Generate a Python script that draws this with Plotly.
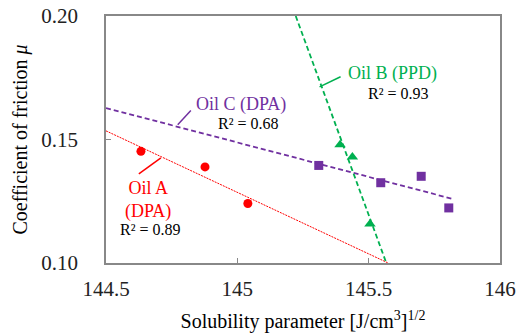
import numpy as np
import plotly.graph_objects as go

# Data
oil_a_x = [144.633, 144.877, 145.040]
oil_a_y = [0.1452, 0.1389, 0.1241]
oil_b_x = [145.391, 145.438, 145.505]
oil_b_y = [0.1479, 0.1429, 0.1158]
oil_c_x = [145.310, 145.546, 145.700, 145.805]
oil_c_y = [0.1395, 0.1325, 0.1351, 0.1223]
x_ticks = [144.5, 145, 145.5, 146]
x_tick_labels = ["144.5", "145", "145.5", "146"]
y_ticks = [0.10, 0.15, 0.20]
y_tick_labels = ["0.10", "0.15", "0.20"]

RED = "#FF0000"
GREEN = "#00B050"
PURPLE = "#7030A0"
FONT = "Liberation Serif"


def fit(xs, ys):
    m, b = np.polyfit(xs, ys, 1)
    return m, b


fig = go.Figure()

# trend lines
ma, ba = fit(oil_a_x, oil_a_y)
xa = [144.5, (0.10 - ba) / ma]
fig.add_trace(go.Scatter(x=xa, y=[ma * v + ba for v in xa], mode="lines",
                         line=dict(color=RED, width=1, dash="2px,1px"), showlegend=False))
mc, bc = fit(oil_c_x, oil_c_y)
xc = [144.5, max(oil_c_x) + 0.01]
fig.add_trace(go.Scatter(x=xc, y=[mc * v + bc for v in xc], mode="lines",
                         line=dict(color=PURPLE, width=1.8, dash="5px,3px"), showlegend=False))
mb, bb = fit(oil_b_x, oil_b_y)
xb = [(0.20 - bb) / mb, (0.10 - bb) / mb]
fig.add_trace(go.Scatter(x=xb, y=[mb * v + bb for v in xb], mode="lines",
                         line=dict(color=GREEN, width=1.8, dash="5px,3px"), showlegend=False))

# markers
fig.add_trace(go.Scatter(x=oil_a_x, y=oil_a_y, mode="markers",
                         marker=dict(color=RED, size=9, symbol="circle"), showlegend=False))
fig.add_trace(go.Scatter(x=oil_c_x, y=oil_c_y, mode="markers",
                         marker=dict(color=PURPLE, size=9, symbol="square"), showlegend=False))
fig.add_trace(go.Scatter(x=oil_b_x, y=oil_b_y, mode="markers",
                         marker=dict(color=GREEN, size=10, symbol="triangle-up"), showlegend=False))

# labels
ann = [
    dict(x=144.66, y=0.1257, text="Oil A<br>(DPA)", color=RED, size=18),
    dict(x=144.671, y=0.1135, text="R² = 0.89", color="#000000", size=16),
    dict(x=145.013, y=0.1640, text="Oil C (DPA)", color=PURPLE, size=18),
    dict(x=145.043, y=0.1565, text="R² = 0.68", color="#000000", size=16),
    dict(x=145.59, y=0.1767, text="Oil B (PPD)", color=GREEN, size=18),
    dict(x=145.613, y=0.1688, text="R² = 0.93", color="#000000", size=16),
]
for a in ann:
    fig.add_annotation(x=a["x"], y=a["y"], text=a["text"], showarrow=False,
                       font=dict(family=FONT, size=a["size"], color=a["color"]),
                       xanchor="center", yanchor="middle")

leaders = [
    ((144.625, 0.1361), (144.709, 0.1426), RED),
    ((144.773, 0.1560), (144.823, 0.1617), PURPLE),
    ((145.313, 0.1713), (145.393, 0.1754), GREEN),
]
for (x0, y0), (x1, y1), c in leaders:
    fig.add_shape(type="line", x0=x0, y0=y0, x1=x1, y1=y1,
                  line=dict(color=c, width=1.5))

fig.update_layout(
    width=519, height=336,
    margin=dict(l=106, r=19, t=16, b=73),
    paper_bgcolor="white", plot_bgcolor="white",
    font=dict(family=FONT, size=20, color="#000000"),
)
fig.update_xaxes(
    range=[144.5, 146], tickvals=x_ticks, ticktext=x_tick_labels, automargin=False,
    showline=True, mirror=True, linecolor="#888888", linewidth=1.5,
    ticks="inside", ticklen=5, tickcolor="#888888", showgrid=False, zeroline=False,
    tickfont=dict(family=FONT, size=21, color="#222222"), ticklabelstandoff=6,
    title=dict(text="Solubility parameter [J/cm<sup>3</sup>]<sup>1/2</sup>",
               font=dict(family=FONT, size=20, color="#000000"), standoff=14),
)
fig.update_yaxes(
    range=[0.10, 0.20], tickvals=y_ticks, ticktext=y_tick_labels, automargin=False,
    showline=True, mirror=True, linecolor="#888888", linewidth=1.5,
    ticks="inside", ticklen=5, tickcolor="#888888", showgrid=False, zeroline=False,
    tickfont=dict(family=FONT, size=21, color="#222222"), ticklabelstandoff=22,
    title=dict(text="Coefficient of friction <i>μ</i>",
               font=dict(family=FONT, size=20, color="#000000"), standoff=8),
)

fig.write_html("out.html")
